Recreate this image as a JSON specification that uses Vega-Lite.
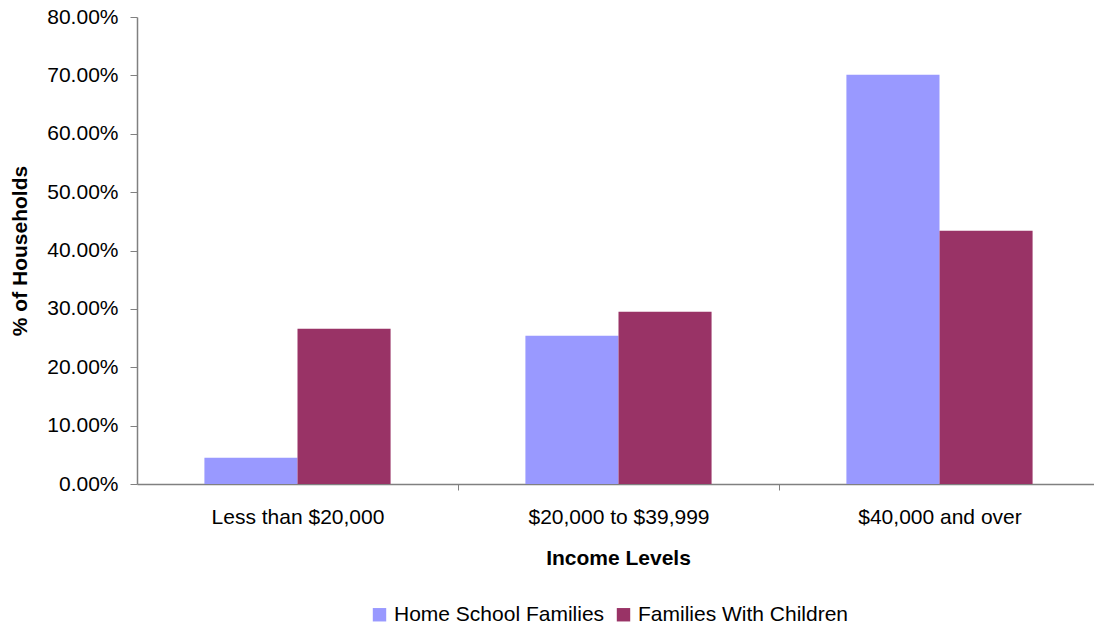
{
  "$schema": "https://vega.github.io/schema/vega-lite/v6.json",
  "width": 957,
  "height": 467,
  "autosize": {"type": "none"},
  "padding": {"left": 137, "top": 17, "right": 0, "bottom": 145},
  "background": "white",
  "config": {
    "font": "Liberation Sans",
    "view": {"stroke": null},
    "axis": {"labelFont": "Liberation Sans", "titleFont": "Liberation Sans", "labelColor": "#000000", "titleColor": "#000000", "grid": false}
  },
  "data": {
    "values": [
      {"income": "Less than $20,000", "group": "Home School Families", "pct": 0.045},
      {"income": "Less than $20,000", "group": "Families With Children", "pct": 0.266},
      {"income": "$20,000 to $39,999", "group": "Home School Families", "pct": 0.254},
      {"income": "$20,000 to $39,999", "group": "Families With Children", "pct": 0.295},
      {"income": "$40,000 and over", "group": "Home School Families", "pct": 0.701},
      {"income": "$40,000 and over", "group": "Families With Children", "pct": 0.434}
    ]
  },
  "mark": {"type": "bar"},
  "encoding": {
    "x": {
      "field": "income",
      "type": "nominal",
      "sort": ["Less than $20,000", "$20,000 to $39,999", "$40,000 and over"],
      "scale": {"paddingInner": 0.42, "paddingOuter": 0.21, "rangeMax": 963},
      "axis": {
        "title": "Income Levels",
        "titleFontSize": 21,
        "titleFontWeight": "bold",
        "titlePadding": 20,
        "titleX": 481,
        "labelFontSize": 21,
        "labelAngle": 0,
        "labelPadding": 16,
        "labelLimit": 400,
        "tickOffset": 160.5,
        "labelOffset": -160.5,
        "tickSize": 6,
        "tickColor": "#808080",
        "domainColor": "#808080",
        "domainWidth": 1.5
      }
    },
    "xOffset": {
      "field": "group",
      "type": "nominal",
      "sort": ["Home School Families", "Families With Children"],
      "scale": {"paddingInner": 0, "paddingOuter": 0}
    },
    "y": {
      "field": "pct",
      "type": "quantitative",
      "scale": {"domain": [0, 0.8]},
      "axis": {
        "title": "% of Households",
        "titleFontSize": 21,
        "titleFontWeight": "bold",
        "titlePadding": 16,
        "labelFontSize": 21,
        "labelPadding": 12,
        "format": ".2%",
        "values": [0, 0.1, 0.2, 0.3, 0.4, 0.5, 0.6, 0.7, 0.8],
        "tickSize": 7,
        "tickColor": "#808080",
        "domainColor": "#808080",
        "domainWidth": 1.5
      }
    },
    "color": {
      "field": "group",
      "type": "nominal",
      "sort": ["Home School Families", "Families With Children"],
      "scale": {"domain": ["Home School Families", "Families With Children"], "range": ["#9999FF", "#993366"]},
      "legend": {
        "title": null,
        "orient": "none",
        "direction": "horizontal",
        "legendX": 232,
        "legendY": 587,
        "symbolType": "square",
        "symbolSize": 180,
        "symbolStrokeWidth": 0,
        "symbolOpacity": 1,
        "labelFontSize": 21,
        "labelColor": "#000000",
        "labelLimit": 400,
        "columnPadding": 8,
        "labelOffset": 4
      }
    }
  }
}
